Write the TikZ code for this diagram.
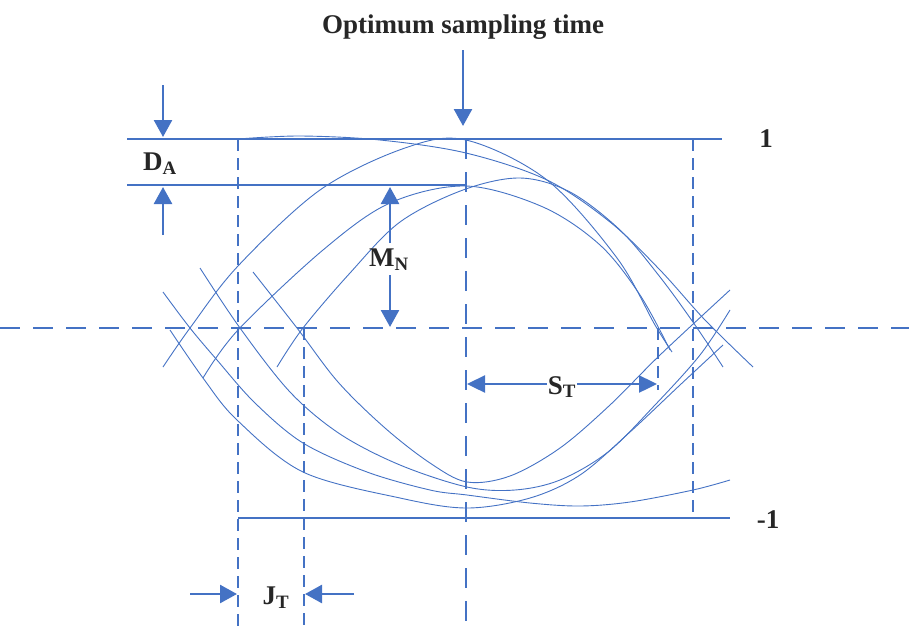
\documentclass[tikz,border=0pt]{standalone}
\usepackage{fontspec}
\setmainfont{Liberation Serif}
\usetikzlibrary{arrows.meta}
\definecolor{eyeblue}{RGB}{68,114,196}

\begin{document}
\begin{tikzpicture}[x=1pt, y=-1pt,
  trace/.style={draw=eyeblue, line width=0.9pt},
  level/.style={draw=eyeblue, line width=1.6pt},
  guide/.style={draw=eyeblue, line width=1.3pt, dash pattern=on 12pt off 7pt},
  axis/.style={draw=eyeblue, line width=2.2pt, dash pattern=on 20pt off 13pt},
  arr/.style={draw=eyeblue, line width=2.6pt, -{Triangle[length=17pt, width=18pt]}},
  dbl/.style={draw=eyeblue, line width=2.4pt, {Triangle[length=18pt, width=17pt]}-{Triangle[length=18pt, width=17pt]}},
  lbl/.style={font=\fontsize{27}{32}\selectfont\bfseries, text=black!85, inner sep=1pt}]
\useasboundingbox (0,0) rectangle (909,632);
% reference levels and grid
\coordinate (topL) at (127,139); \coordinate (topR) at (722,139);
\coordinate (midL) at (127,185); \coordinate (midR) at (466,185);
\coordinate (botL) at (238,518); \coordinate (botR) at (730,518);
\coordinate (zeroL) at (0,328); \coordinate (zeroR) at (909,328);
\coordinate (jl) at (238,139); \coordinate (jlb) at (238,632);
\coordinate (jr) at (304,328); \coordinate (jrb) at (304,632);
\coordinate (ct) at (466,139); \coordinate (cb) at (466,632);
\coordinate (rt) at (693,139); \coordinate (rb) at (693,518);
\coordinate (st) at (658,328); \coordinate (sb) at (658,390);
\draw[level] (topL) -- (topR);
\draw[level] (midL) -- (midR);
\draw[level] (botL) -- (botR);
\draw[axis] (zeroL) -- (zeroR);
\draw[axis] (ct) -- (cb);
\draw[guide] (jl) -- (jlb);
\draw[guide] (jr) -- (jrb);
\draw[guide] (rt) -- (rb);
\draw[guide] (st) -- (sb);
% eye traces
\draw[trace] plot[smooth, tension=0.55] coordinates {(163,367) (190,328) (238,266) (320,190) (405,148) (466,140) (547,180) (617,258) (655,325) (672,352)};
\draw[trace] plot[smooth, tension=0.55] coordinates {(238,139) (300,136) (380,140) (466,153) (547,180) (610,222) (660,270) (705,320) (753,367)};
\draw[trace] plot[smooth, tension=0.55] coordinates {(277,367) (303,328) (350,273) (400,222) (463,190) (520,178) (570,192) (620,230) (660,277) (695,325) (723,367)};
\draw[trace] plot[smooth, tension=0.55] coordinates {(203,378) (238,330) (323,250) (390,203) (466,186) (543,207) (600,245) (640,295) (670,350)};
\draw[trace] plot[smooth, tension=0.55] coordinates {(170,330) (203,378) (237,420) (303,472) (400,498) (467,508) (530,498) (580,475) (630,432) (680,385) (723,345)};
\draw[trace] plot[smooth, tension=0.55] coordinates {(163,292) (190,328) (217,360) (255,403) (303,443) (367,472) (430,490) (467,495) (530,503) (580,506) (630,502) (693,490) (730,480)};
\draw[trace] plot[smooth, tension=0.55] coordinates {(200,268) (240,328) (290,392) (340,434) (400,465) (467,487) (515,490) (560,480) (608,452) (655,405) (700,355) (730,310)};
\draw[trace] plot[smooth, tension=0.55] coordinates {(253,272) (297,328) (338,382) (385,428) (430,463) (467,482) (510,476) (560,448) (610,405) (660,355) (730,290)};
% labels and markers
\node[lbl] (opt) at (463,27) {Optimum sampling time};
\node[lbl] (one) at (766,139) {1};
\node[lbl] (mone) at (768,520) {-1};
\node[lbl] (da) at (160,164) {D\textsubscript{A}};
\node[lbl] (mn) at (389,260) {M\textsubscript{N}};
\node[lbl] (jt) at (276,598) {J\textsubscript{T}};
\coordinate (optA) at (463,50); \coordinate (optB) at (463,126);
\coordinate (daA) at (163,85); \coordinate (daB) at (163,137);
\coordinate (daC) at (163,235); \coordinate (daD) at (163,187);
\coordinate (mnA) at (390,243); \coordinate (mnB) at (390,187);
\coordinate (mnC) at (390,275); \coordinate (mnD) at (390,327);
\coordinate (jtA) at (190,594); \coordinate (jtB) at (237,594);
\coordinate (jtC) at (354,594); \coordinate (jtD) at (305,594);
\coordinate (stA) at (467,384); \coordinate (stB) at (657,384);
\draw[arr] (optA) -- (optB);
\draw[arr] (daA) -- (daB);
\draw[arr] (daC) -- (daD);
\draw[arr] (mnA) -- (mnB);
\draw[arr] (mnC) -- (mnD);
\draw[arr] (jtA) -- (jtB);
\draw[arr] (jtC) -- (jtD);
\draw[dbl] (stA) -- node[lbl, fill=white, yshift=-3pt] (stl) {S\textsubscript{T}} (stB);
\end{tikzpicture}
\end{document}
